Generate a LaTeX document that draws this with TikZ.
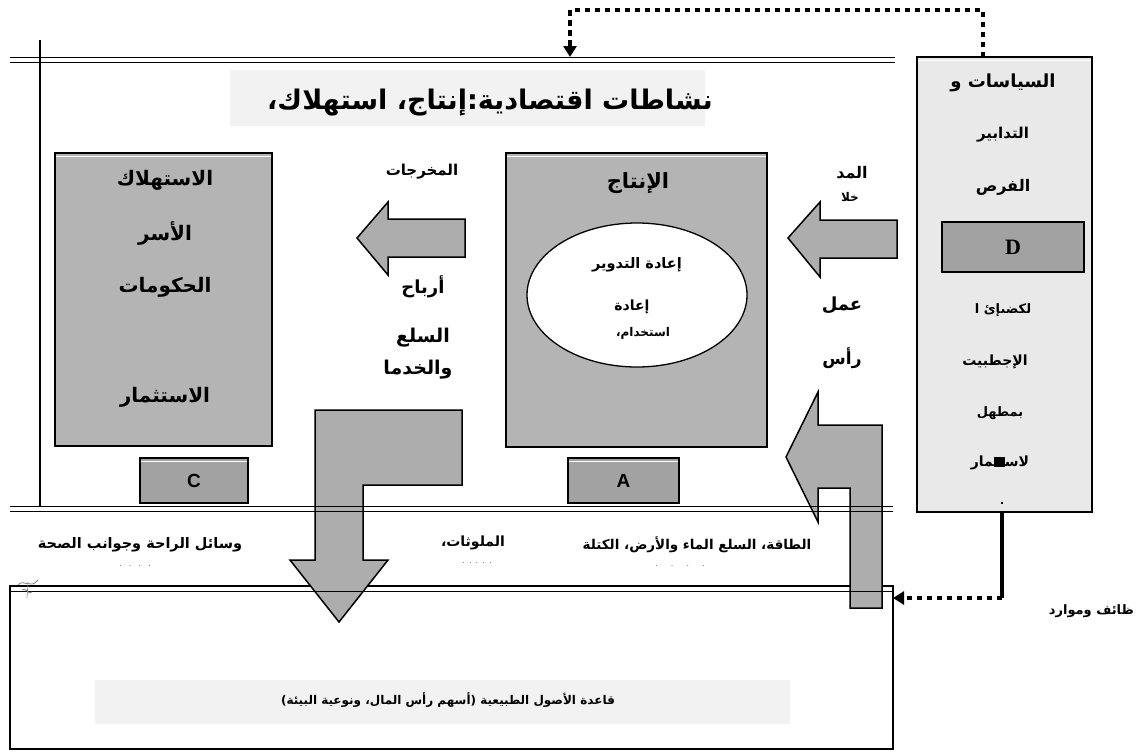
\documentclass[tikz,border=0pt]{standalone}
\usepackage{fontspec}
\newfontfamily\arfont[Script=Arabic]{DejaVu Sans}
\newfontfamily\latfont{Liberation Sans}
\newfontfamily\serfont{Liberation Serif}
\TeXXeTstate=1
\newcommand\arsz[1]{\fontsize{#1}{#1}\selectfont\arfont\bfseries}
\usetikzlibrary{arrows.meta,shapes.geometric}
\definecolor{boxgray}{HTML}{B4B4B4}
\definecolor{smallgray}{HTML}{A2A2A2}
\definecolor{panelgray}{HTML}{E9E9E9}
\definecolor{arrowgray}{HTML}{ADADAD}
\definecolor{bandgray}{HTML}{F2F2F2}
\begin{document}
\begin{tikzpicture}[x=1pt,y=-1pt,
  gbox/.style={draw=black, line width=1.8pt, fill=boxgray, inner sep=0pt},
  sbox/.style={draw=black, line width=1.8pt, fill=smallgray, inner sep=0pt},
  pbox/.style={draw=black, line width=1.6pt, fill=panelgray, inner sep=0pt},
  blockarrow/.style={draw=black, line width=1.5pt, fill=arrowgray, line join=miter},
  dline/.style={line width=1pt},
  dotline/.style={line width=4.5pt, dash pattern=on 5.5pt off 4.5pt},
  lbl/.style={inner sep=0pt, anchor=center}
]
\useasboundingbox (0,0) rectangle (1146,753);
\fill[white] (0,0) rectangle (1146,753);

% faint bands
\fill[bandgray] (230,70) rectangle (705,126);
\fill[bandgray] (95,680) rectangle (790,724);

% main boxes
\node[gbox, minimum width=217pt, minimum height=293pt] (cons) at (163.5,299.5) {};
\node[gbox, minimum width=261pt, minimum height=294pt] (prod) at (636.5,300) {};
\node[ellipse, draw=black, line width=1.3pt, fill=white, minimum width=220pt, minimum height=144pt, inner sep=0pt] (recyc) at (637,295) {};
\node[sbox, minimum width=108pt, minimum height=45pt] (cbox) at (194,480.5) {};
\node[sbox, minimum width=111pt, minimum height=45pt] (abox) at (623.5,480.5) {};
\node[pbox, minimum width=175pt, minimum height=455pt] (panel) at (1004.5,284.5) {};
\node[sbox, line width=1.3pt, minimum width=142pt, minimum height=50pt] (dbox) at (1013,247) {};
\node[draw=black, line width=1.2pt, fill=white, minimum width=883pt, minimum height=163pt, inner sep=0pt] (base) at (451.5,667.5) {};
\fill[bandgray] (95,680) rectangle (790,724);

\foreach \n in {cons,prod,cbox,abox,panel}
  \draw[white, line width=1pt] ([shift={(1.5pt,-4pt)}]\n.north west) -- ([shift={(-1.5pt,-4pt)}]\n.north east);

% block arrows
\draw[blockarrow] (357,238) -- (388,202) -- (388,219) -- (465,219) -- (465,257) -- (388,257) -- (388,275) -- cycle;
\draw[blockarrow] (788,238) -- (820,202) -- (820,220) -- (897,220) -- (897,258) -- (820,258) -- (820,277) -- cycle;
\draw[blockarrow] (315,410) -- (462,410) -- (462,485) -- (363,485) -- (363,560) -- (388,560) -- (339,622) -- (290,560) -- (315,560) -- cycle;
\draw[blockarrow] (786,457) -- (818,392) -- (818,425) -- (882,425) -- (882,608) -- (850,608) -- (850,488) -- (818,488) -- (818,522) -- cycle;

% horizontal double lines and frame line
\draw[dline] (10,57) -- (895,57);
\draw[dline] (10,62) -- (895,62);
\draw[dline] (10,506) -- (893,506);
\draw[dline] (10,511) -- (893,511);
\draw[dline] (10,591) -- (893,591);
\draw[line width=1.6pt] (40,40) -- (40,506);

% connectors
\coordinate (pd) at (983,57);
\coordinate (c1) at (983,10);
\coordinate (c2) at (570,10);
\coordinate (tl) at (570,57);
\draw[dotline, -{Triangle[width=13pt,length=11pt]}] (pd) -- (c1) -- (c2) -- (tl);
\coordinate (pb) at (1002,512);
\coordinate (c3) at (1002,598);
\coordinate (be) at (893,598);
\draw[line width=4.5pt] (pb) -- (c3);
\draw[dotline, -{Triangle[width=13pt,length=11pt]}] (c3) -- (be);

% title
\node[lbl] (title) at (490,103) {\arsz{27pt}\beginR نشاطات اقتصادية:إنتاج، استهلاك،\endR};

% consumption texts
\node[lbl] (t1) at (165,180) {\arsz{20pt}\beginR الاستهلاك\endR};
\node[lbl] (t2) at (165,233) {\arsz{20pt}\beginR الأسر\endR};
\node[lbl] (t3) at (165,287) {\arsz{20pt}\beginR الحكومات\endR};
\node[lbl] (t4) at (165,397) {\arsz{20pt}\beginR الاستثمار\endR};

% outputs
\node[lbl] (o1) at (422,172) {\arsz{15pt}\beginR المخرجات\endR};
\node[lbl] (o2) at (423,287) {\arsz{18pt}\beginR أرباح\endR};
\node[lbl] (o3) at (423,338) {\arsz{19pt}\beginR السلع\endR};
\node[lbl] (o4) at (418,370) {\arsz{19pt}\beginR والخدما\endR};

% production
\node[lbl] (p1) at (638,183) {\arsz{21pt}\beginR الإنتاج\endR};
\node[lbl] (p2) at (637,265) {\arsz{14.5pt}\beginR إعادة التدوير\endR};
\node[lbl] (p3) at (632,307) {\arsz{14pt}\beginR إعادة\endR};
\node[lbl] (p4) at (643,333) {\arsz{12pt}\beginR استخدام،\endR};

% inputs
\node[lbl] (i1) at (852,173) {\arsz{16pt}\beginR المد\endR};
\node[lbl] (i2) at (850,197) {\arsz{12pt}\beginR خلا\endR};
\node[lbl] (i3) at (842,305) {\arsz{18pt}\beginR عمل\endR};
\node[lbl] (i4) at (842,358) {\arsz{17pt}\beginR رأس\endR};

% panel
\node[lbl] (s1) at (1003,83) {\arsz{18pt}\beginR السياسات و\endR};
\node[lbl] (s2) at (1003,135) {\arsz{15pt}\beginR التدابير\endR};
\node[lbl] (s3) at (1003,187) {\arsz{16pt}\beginR الفرص\endR};
\node[lbl] (dl) at (dbox) {\serfont\bfseries\fontsize{22pt}{22pt}\selectfont D};
\node[lbl] (s4) at (1003,310) {\arsz{13pt}\beginR لكضىإئ ا\endR};
\node[lbl] (s5) at (995,362) {\arsz{14pt}\beginR الإجطبيت\endR};
\node[lbl] (s6) at (1000,413) {\arsz{13pt}\beginR بمطهل\endR};
\node[lbl] (s7) at (1000,463) {\arsz{14pt}\beginR لاستثمار\endR};
\fill[black] (994,457) rectangle (1005,467);
\fill[black] (1001,502) rectangle (1003,504);

\node[lbl] (cl) at (cbox) {\latfont\bfseries\fontsize{19pt}{19pt}\selectfont C};
\node[lbl] (al) at (abox) {\latfont\bfseries\fontsize{19pt}{19pt}\selectfont A};

% lower texts
\node[lbl] (l1) at (140,545) {\arsz{14.5pt}\beginR وسائل الراحة وجوانب الصحة\endR};
\node[lbl] (l1d) at (135,566) {\fontsize{9pt}{9pt}\selectfont . \ . \ . \ .};
\node[lbl] (l2) at (473,543) {\arsz{14pt}\beginR الملوثات،\endR};
\node[lbl] (l2d) at (477,563) {\fontsize{9pt}{9pt}\selectfont . . . . .};
\node[lbl] (l3) at (697,545) {\arsz{13.5pt}\beginR الطاقة، السلع الماء والأرض، الكتلة\endR};
\node[lbl] (l3d) at (680,566) {\fontsize{9pt}{9pt}\selectfont . \quad . \quad . \quad .};

% base
\node[lbl] (b1) at (448,700) {\arsz{12pt}\beginR قاعدة الأصول الطبيعية (أسهم رأس المال، ونوعية البيئة)\endR};
\node[lbl, anchor=east] (r1) at (1134,611) {\arsz{13pt}\beginR ظائف وموارد\endR};

% scribble
\draw[gray, line width=0.8pt] (18,585) .. controls (24,578) and (30,590) .. (38,580);
\draw[gray, line width=0.8pt] (22,590) .. controls (26,586) and (28,596) .. (32,592);
\draw[gray, line width=0.6pt] (28,582) -- (27,598);
\end{tikzpicture}
\end{document}
